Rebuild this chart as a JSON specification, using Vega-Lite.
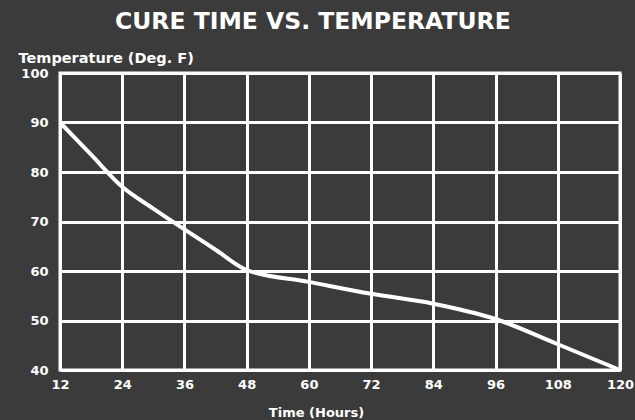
{
  "$schema": "https://vega.github.io/schema/vega-lite/v6.json",
  "width": 560,
  "height": 297,
  "autosize": "none",
  "padding": {"left": 60, "top": 73, "right": 15, "bottom": 50},
  "background": "#3b3b3b",
  "title": {
    "text": "CURE TIME VS. TEMPERATURE",
    "font": "DejaVu Sans",
    "fontSize": 23.5,
    "fontWeight": "bold",
    "color": "white",
    "anchor": "start",
    "dx": 97,
    "offset": -2,
    "baseline": "alphabetic"
  },
  "config": {
    "view": {"stroke": "white", "strokeWidth": 3},
    "font": "DejaVu Sans"
  },
  "data": {
    "values": [
      {"time": 12, "temp": 90},
      {"time": 18, "temp": 83.5},
      {"time": 24, "temp": 77},
      {"time": 30, "temp": 72.6},
      {"time": 36, "temp": 68.4},
      {"time": 42, "temp": 64.3},
      {"time": 48, "temp": 60.2},
      {"time": 60, "temp": 57.8},
      {"time": 72, "temp": 55.4},
      {"time": 84, "temp": 53.4},
      {"time": 96, "temp": 50.3},
      {"time": 108, "temp": 45.2},
      {"time": 120, "temp": 40}
    ]
  },
  "mark": {"type": "line", "color": "white", "strokeWidth": 4, "interpolate": "monotone"},
  "encoding": {
    "x": {
      "field": "time",
      "type": "quantitative",
      "scale": {"domain": [12, 120], "nice": false, "zero": false},
      "axis": {
        "values": [12, 24, 36, 48, 60, 72, 84, 96, 108, 120],
        "title": "Time (Hours)",
        "titleColor": "white",
        "titleFontSize": 13,
        "titleFontWeight": "bold",
        "titleX": 256,
        "titleY": 42,
        "titleBaseline": "middle",
        "labelColor": "white",
        "labelFontSize": 13,
        "labelFontWeight": "bold",
        "labelPadding": 8,
        "labelFlush": false,
        "ticks": false,
        "domain": false,
        "grid": true,
        "gridColor": "white",
        "gridWidth": 3,
        "gridOpacity": 1
      }
    },
    "y": {
      "field": "temp",
      "type": "quantitative",
      "scale": {"domain": [40, 100], "nice": false, "zero": false},
      "axis": {
        "values": [40, 50, 60, 70, 80, 90, 100],
        "title": "Temperature (Deg. F)",
        "titleColor": "white",
        "titleFontSize": 14.5,
        "titleFontWeight": "bold",
        "titleAngle": 0,
        "titleAlign": "left",
        "titleBaseline": "middle",
        "titleX": -42,
        "titleY": -15,
        "labelColor": "white",
        "labelFontSize": 13,
        "labelFontWeight": "bold",
        "labelPadding": 12,
        "labelFlush": false,
        "ticks": false,
        "domain": false,
        "grid": true,
        "gridColor": "white",
        "gridWidth": 3,
        "gridOpacity": 1
      }
    }
  }
}
